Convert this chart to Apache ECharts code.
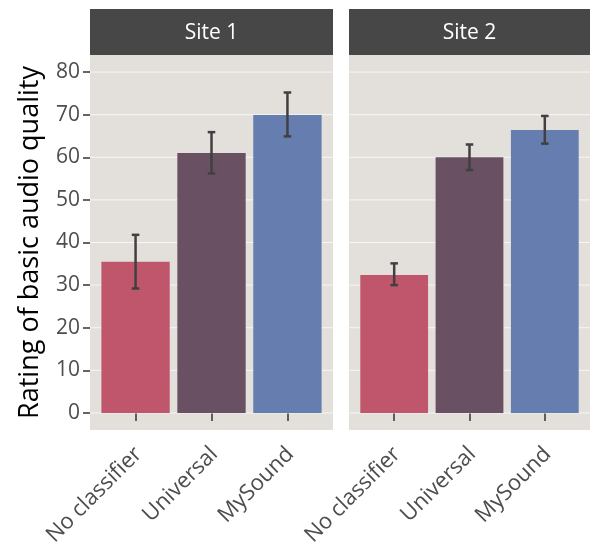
<!DOCTYPE html>
<html><head><meta charset="utf-8">
<script src="https://cdn.jsdelivr.net/npm/echarts@6/dist/echarts.min.js"></script>
<style>html,body{margin:0;padding:0;background:#fff}#c{width:590px;height:547px}</style>
</head><body><div id="c"></div>
<script>
const categories = ['No classifier', 'Universal', 'MySound'];
const sites = ['Site 1', 'Site 2'];
const site1Values = [35.5, 61.0, 69.9];
const site1Lower = [29.2, 56.2, 64.9];
const site1Upper = [41.8, 65.9, 75.2];
const site2Values = [32.4, 60.0, 66.4];
const site2Lower = [30.0, 57.0, 63.2];
const site2Upper = [35.1, 63.0, 69.7];
const yTicks = [0, 10, 20, 30, 40, 50, 60, 70, 80];
const barColors = ['#BF566B', '#6A5063', '#657EAF'];
const yTitle = 'Rating of basic audio quality';

const FONT = 'Open Sans';
const chart = echarts.init(document.getElementById('c'), null, {renderer: 'canvas'});

const panels = [
  {left: 90, width: 243},
  {left: 349, width: 241}
];
const siteData = [
  {v: site1Values, lo: site1Lower, hi: site1Upper},
  {v: site2Values, lo: site2Lower, hi: site2Upper}
];

const grids = panels.map(p => ({left: p.left, width: p.width, top: 55, bottom: 117, show: true, backgroundColor: '#E3E0DC', borderWidth: 0, containLabel: false, outerBoundsMode: 'none'}));
const xAxes = panels.map((p, i) => ({
  type: 'value', gridIndex: i, min: 0.4, max: 3.6,
  axisLine: {show: false}, splitLine: {show: false},
  axisTick: {show: true, customValues: [1, 2, 3], length: 8, lineStyle: {color: '#333', width: 1.5}},
  axisLabel: {customValues: [1, 2, 3], rotate: 45, align: 'right', verticalAlign: 'top', padding: [0, 7, 0, 0], formatter: v => categories[Math.round(v) - 1], color: '#4D4D4D', fontSize: 22, fontFamily: FONT, margin: 8}
}));
const yAxes = panels.map((p, i) => ({
  type: 'value', gridIndex: i, min: -4, max: 84,
  name: i === 0 ? yTitle : '', nameLocation: 'middle', nameGap: 46,
  nameTextStyle: {fontSize: 27, color: '#000', fontFamily: FONT},
  axisLine: {show: false}, splitLine: {show: false},
  axisTick: {show: i === 0, customValues: yTicks, length: 7, lineStyle: {color: '#333', width: 1.5}},
  axisLabel: {show: i === 0, customValues: yTicks, color: '#4D4D4D', fontSize: 21, fontFamily: FONT, margin: 10}
}));

const series = [];
panels.forEach((p, i) => {
  series.push({
    type: 'custom', xAxisIndex: i, yAxisIndex: i, z: 1, silent: true,
    data: yTicks.map(t => [t]),
    renderItem: (params, api) => {
      const v = api.value(0);
      const a = api.coord([0.4, v]), b = api.coord([3.6, v]);
      return {type: 'line', shape: {x1: a[0], y1: a[1], x2: b[0], y2: b[1]}, style: {stroke: '#F7F6F4', lineWidth: 1}};
    }
  });
  const d = siteData[i];
  series.push({
    type: 'custom', xAxisIndex: i, yAxisIndex: i, z: 2,
    data: d.v.map((v, k) => [k + 1, v, k]),
    renderItem: (params, api) => {
      const x = api.value(0), v = api.value(1), k = api.value(2);
      const top = api.coord([x, v]), base = api.coord([x, 0]);
      const w = api.size([0.9, 0])[0];
      return {type: 'rect', shape: {x: top[0] - w / 2, y: top[1], width: w, height: base[1] - top[1]}, style: {fill: barColors[k]}};
    }
  });
  series.push({
    type: 'custom', xAxisIndex: i, yAxisIndex: i, z: 3,
    data: d.v.map((v, k) => [k + 1, d.lo[k], d.hi[k]]),
    renderItem: (params, api) => {
      const x = api.value(0);
      const lo = api.coord([x, api.value(1)]), hi = api.coord([x, api.value(2)]);
      const cw = api.size([0.1, 0])[0] / 2;
      const st = {stroke: '#404040', lineWidth: 2.5};
      return {type: 'group', children: [
        {type: 'line', shape: {x1: lo[0], y1: lo[1], x2: hi[0], y2: hi[1]}, style: st},
        {type: 'line', shape: {x1: lo[0] - cw, y1: lo[1], x2: lo[0] + cw, y2: lo[1]}, style: st},
        {type: 'line', shape: {x1: hi[0] - cw, y1: hi[1], x2: hi[0] + cw, y2: hi[1]}, style: st}
      ]};
    }
  });
});

const graphics = [];
panels.forEach((p, i) => {
  graphics.push({type: 'rect', left: p.left, top: 9, shape: {width: p.width, height: 46}, style: {fill: '#474747'}, silent: true});
  graphics.push({type: 'text', x: p.left + p.width / 2, y: 33, style: {text: sites[i], fill: '#FFFFFF', fontSize: 21, fontFamily: FONT, align: 'center', verticalAlign: 'middle'}, silent: true});
});

chart.setOption({
  animation: false,
  backgroundColor: '#FFFFFF',
  grid: grids, xAxis: xAxes, yAxis: yAxes, series: series, graphic: graphics
});
</script></body></html>
